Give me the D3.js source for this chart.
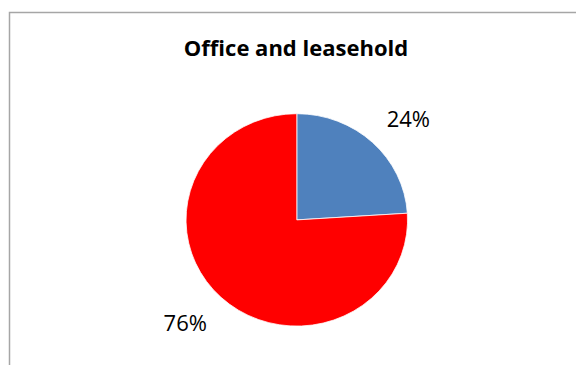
<!DOCTYPE html>
<html>
<head>
<meta charset="utf-8">
<script src="https://cdn.jsdelivr.net/npm/d3@7"></script>
<style>
  html, body { margin: 0; padding: 0; background: #fff; }
  svg { display: block; }
</style>
</head>
<body>
<svg id="chart" width="576" height="365"></svg>
<script>
// Share of office vs leasehold
const categories = ["Leasehold", "Office"];
const values = [24, 76];
const labels = ["24%", "76%"];
const colors = ["#4f81bd", "#ff0000"];
const title = "Office and leasehold";

const svg = d3.select("#chart");
const width = 576, height = 365;

// chart frame (continues past the right and bottom edges)
svg.append("rect")
  .attr("x", 9.5).attr("y", 12.5)
  .attr("width", 600).attr("height", 400)
  .attr("fill", "#fff")
  .attr("stroke", "#a6a6a6")
  .attr("stroke-width", 1.5);

svg.append("text")
  .attr("x", 296).attr("y", 56)
  .attr("text-anchor", "middle")
  .attr("font-family", "'Open Sans', sans-serif")
  .attr("font-weight", "bold")
  .attr("font-size", 22)
  .attr("fill", "#000")
  .text(title);

// pie is drawn slightly wider than tall
const cx = 296.8, cy = 219.9, r = 106.2, sx = 1.043;
const pie = d3.pie().sort(null).value(d => d)(values);
const arc = d3.arc().innerRadius(0).outerRadius(r);

const g = svg.append("g").attr("transform", `translate(${cx},${cy}) scale(${sx},1)`);
g.selectAll("path")
  .data(pie)
  .join("path")
  .attr("d", arc)
  .attr("fill", (d, i) => colors[i])
  .attr("stroke", "#fff")
  .attr("stroke-width", 0.75);

// labels placed outside the pie, along each slice's mid-angle, nudged a little
const labelArc = d3.arc().innerRadius(r * 1.41).outerRadius(r * 1.41);
const labelOffsets = [[9, 9], [-9, -6]];
const gl = svg.append("g").attr("transform", `translate(${cx},${cy})`);
gl.selectAll("text.lbl")
  .data(pie)
  .join("text")
  .attr("class", "lbl")
  .attr("transform", (d, i) => {
    const [x, y] = labelArc.centroid(d);
    return `translate(${x + labelOffsets[i][0]},${y + labelOffsets[i][1]})`;
  })
  .attr("text-anchor", "middle")
  .attr("dy", "0.35em")
  .attr("font-family", "'Open Sans', sans-serif")
  .attr("font-size", 22)
  .attr("fill", "#000")
  .text((d, i) => labels[i]);
</script>
</body>
</html>
